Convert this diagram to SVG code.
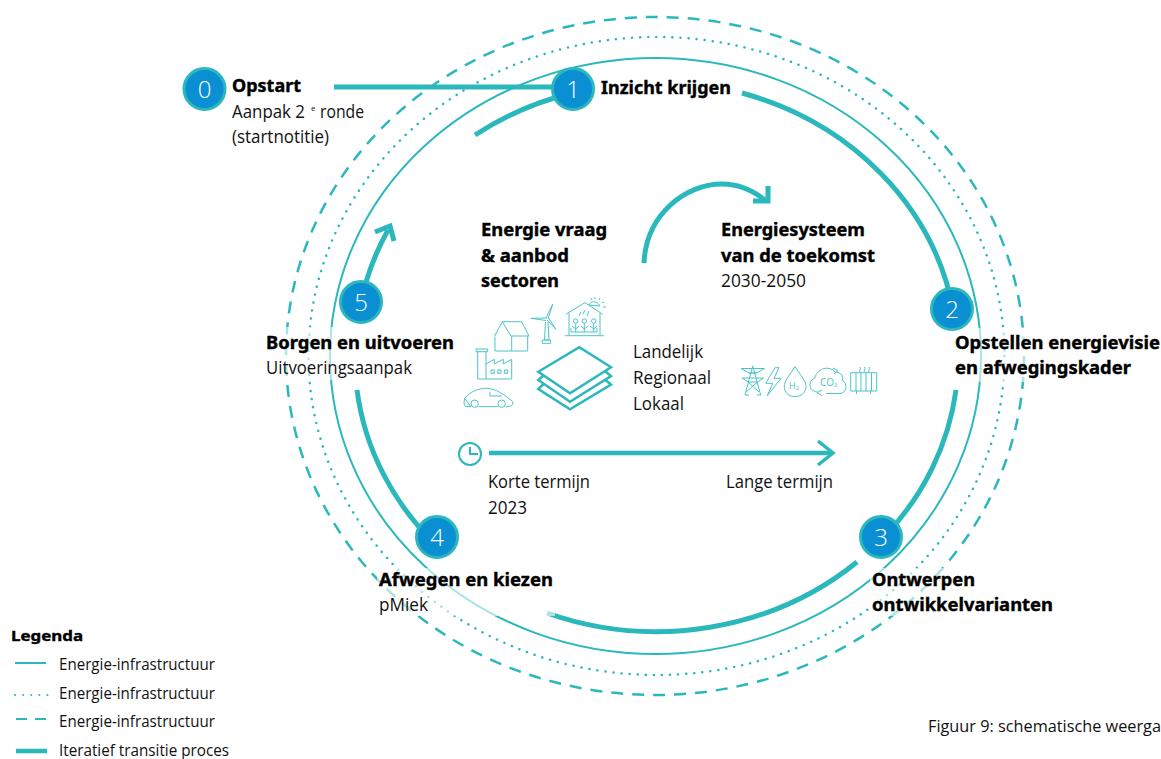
<svg xmlns="http://www.w3.org/2000/svg" width="1161" height="759" viewBox="0 0 1161 759">
<style>
text{font-family:"Open Sans","Liberation Sans",sans-serif;font-size:17.5px;fill:#111;}
.b{font-family:"Noto Sans","Open Sans",sans-serif;font-weight:700;font-size:18px;fill:#000;stroke:#000;stroke-width:.4px;}
.l{font-size:15.500px;}
.t{fill:none;stroke:#2bb8bd;}
.num{fill:#fff;font-size:24px;font-weight:300;text-anchor:middle;}
.nc{fill:#0a8fd3;stroke:#2bb8bd;stroke-width:3;}
.i{fill:none;stroke:#4cc4c8;stroke-width:1;}
.ht{fill:#4cc4c8;}
.halo{fill:#fff;fill-opacity:.6;}
</style>
<rect width="1161" height="759" fill="#fff"/>
<g id="connectors">
<ellipse class="t" cx="655.500" cy="356" rx="325.500" ry="298" stroke-width="2"/>
<ellipse class="t" cx="656.500" cy="356" rx="348" ry="319" stroke-width="2.500" stroke-dasharray="0.100 8" stroke-linecap="round"/>
<ellipse class="t" cx="655" cy="356" rx="369" ry="339" stroke-width="2.500" stroke-dasharray="12 9"/>
<path class="t" stroke-width="5" d="M334 87H572"/>
<path class="t" stroke-width="5" d="M475 135A302 275 0 0 1 572 93"/>
<path class="t" stroke-width="5" d="M742 93A302 275 0 0 1 953 309"/>
<path class="t" stroke-width="5" d="M956 390A302 275 0 0 1 885 536"/>
<path class="t" stroke-width="5" d="M857 562A302 275 0 0 1 547 613"/>
<path class="t" stroke-width="5" d="M437 546A302 275 0 0 1 357 390"/>
<path class="t" stroke-width="5" d="M361 302A302 275 0 0 1 388 230"/>
<path class="t" stroke-width="5" d="M375 232L390 226L394 241"/>
<path class="t" stroke-width="5" d="M644 263C646 215 685 184 722 184C738 184 754 191 766 201"/>
<path class="t" stroke-width="5" d="M768 186V201H753"/>
<path class="t" stroke-width="4.500" d="M489 453H832"/>
<path class="t" stroke-width="3.500" d="M818 441L833 453L818 465"/>
</g>
<g id="n0"><circle class="nc" cx="204.500" cy="89" r="20.500"/><text class="num" x="204.500" y="98">0</text>
<text class="b" x="232" y="92" textLength="69" lengthAdjust="spacingAndGlyphs">Opstart</text><text x="232" y="118" textLength="73" lengthAdjust="spacingAndGlyphs">Aanpak 2</text><text x="311" y="111" style="font-size:8px">e</text><text x="320" y="118" textLength="44" lengthAdjust="spacingAndGlyphs">ronde</text><text x="232" y="143" textLength="97" lengthAdjust="spacingAndGlyphs">(startnotitie)</text></g>
<g id="n1"><circle class="nc" cx="573" cy="89" r="20.500"/><text class="num" x="573" y="98">1</text>
<text class="b" x="601" y="94" textLength="130" lengthAdjust="spacingAndGlyphs">Inzicht krijgen</text></g>
<g id="n2"><rect class="halo" x="953" y="328" width="208" height="54"/><circle class="nc" cx="952" cy="309" r="20.500"/><text class="num" x="952" y="318">2</text>
<text class="b" x="955" y="349" textLength="205" lengthAdjust="spacingAndGlyphs">Opstellen energievisie</text><text class="b" x="955" y="374" textLength="176" lengthAdjust="spacingAndGlyphs">en afwegingskader</text></g>
<g id="n3"><rect class="halo" x="870" y="568" width="185" height="48"/><circle class="nc" cx="881" cy="537" r="20.500"/><text class="num" x="881" y="546">3</text>
<text class="b" x="872" y="586" textLength="103" lengthAdjust="spacingAndGlyphs">Ontwerpen</text><text class="b" x="872" y="611" textLength="181" lengthAdjust="spacingAndGlyphs">ontwikkelvarianten</text></g>
<g id="n4"><rect class="halo" x="377" y="568" width="178" height="48"/><circle class="nc" cx="437" cy="537" r="20.500"/><text class="num" x="437" y="546">4</text>
<text class="b" x="379" y="586" textLength="174" lengthAdjust="spacingAndGlyphs">Afwegen en kiezen</text><text x="379" y="611" textLength="49" lengthAdjust="spacingAndGlyphs">pMiek</text></g>
<g id="n5"><rect class="halo" x="264" y="327" width="192" height="53"/><circle class="nc" cx="361" cy="302" r="20.500"/><text class="num" x="361" y="311">5</text>
<text class="b" x="266" y="349" textLength="188" lengthAdjust="spacingAndGlyphs">Borgen en uitvoeren</text><text x="266" y="374" textLength="146" lengthAdjust="spacingAndGlyphs">Uitvoeringsaanpak</text></g>
<g id="center-text">
<text class="b" x="481" y="236" textLength="126" lengthAdjust="spacingAndGlyphs">Energie vraag</text><text class="b" x="481" y="262" textLength="88" lengthAdjust="spacingAndGlyphs">&amp; aanbod</text><text class="b" x="481" y="287" textLength="78" lengthAdjust="spacingAndGlyphs">sectoren</text>
<text class="b" x="721" y="236" textLength="144" lengthAdjust="spacingAndGlyphs">Energiesysteem</text><text class="b" x="721" y="262" textLength="154" lengthAdjust="spacingAndGlyphs">van de toekomst</text><text x="721" y="287" textLength="85" lengthAdjust="spacingAndGlyphs">2030-2050</text>
<text x="633" y="358" textLength="70" lengthAdjust="spacingAndGlyphs">Landelijk</text><text x="633" y="384" textLength="78" lengthAdjust="spacingAndGlyphs">Regionaal</text><text x="633" y="410" textLength="51" lengthAdjust="spacingAndGlyphs">Lokaal</text>
<text x="488" y="488" textLength="102" lengthAdjust="spacingAndGlyphs">Korte termijn</text><text x="488" y="514" textLength="39" lengthAdjust="spacingAndGlyphs">2023</text><text x="726" y="488" textLength="107" lengthAdjust="spacingAndGlyphs">Lange termijn</text>
</g>
<g id="icons">
<path class="i" d="M494.300 336.700L502.300 321.700H521.700L529 336H511L502.300 321.700M495 337V351H527.700V336M511.700 336V351"/>
<path class="i" d="M476 349h11.700v2.700H476ZM477.700 351.700V379H511.700V359.300L503.300 364V359.300L494.300 364V359.300L486 364M486 351.700V379"/>
<path class="i" d="M491 370h3.300v3.300H491ZM497.700 370h3.300v3.300h-3.300ZM504.300 370h3.300v3.300h-3.300Z"/>
<path class="i" d="M464.700 398.300C470 391.700 478.300 388.300 486.700 388.300C496.700 389 505 395 512.700 401.700C513.300 405 511.700 406.700 506.700 406.700H505.500M498 406.700H478.500M471 406.700H467C464 406.700 463.500 403 464.700 398.300ZM490 391.700V396H501.700"/>
<circle class="i" cx="474.700" cy="403.700" r="3.700"/><circle class="i" cx="501.700" cy="403.700" r="3.700"/>
<path class="i" d="M545.500 322L544.500 340H549L548 322M542.300 340h8.300v3.300h-8.300ZM546.700 318L531 318.300L546 320.500M546 318L552.700 304.300L548 319M547 320L556 329.300L548.500 318"/>
<path class="i" d="M565.700 314.300L585 302.700L602.700 314.300M569 313.300V335M600 313.300V335M565 335.700H604M571 328V332H597V328M575.700 323.500V332M584.300 323.500V332M593.700 323.500V332M572 326L575.700 329L579 326M581 326L584.300 329L588 326M590 326L593.700 329L597 326"/>
<circle class="i" cx="575.700" cy="321" r="2.200"/><circle class="i" cx="584.300" cy="321" r="2.200"/><circle class="i" cx="593.700" cy="321" r="2.200"/>
<path class="i" d="M579 316L581 312M583 314L585 310M587 316L589 311M589 305C590 301 597 300 600 306ZM591 298L592 300M595 297V299M600 298L599 300M604 302L602 303M606 307L603 307"/>
<path class="t" stroke-width="2.500" stroke-linejoin="miter" d="M538.300 371.700L579.300 347.300L611 367.300L570 393.300ZM543.500 375.500L538.300 380L570 401.700L611 376L605.500 371.500M543.500 384L538.300 389L570 409.300L611 384.500L605.500 380"/>
<circle class="t" cx="470" cy="454" r="11" stroke-width="2"/><path class="t" stroke-width="2" d="M470 447V454H478"/>
<path class="i" d="M752.700 366L745 395M752.700 366L760.700 395M741 368.500H764.500M742 378H763.500M741 368.500L749 373H756.500L764.500 368.500M742 378L748 382H757.500L763.500 378M748 382L759 392M757.500 382L746 392M749 373L756.500 373M745 395H749M757 395H761"/>
<path class="i" stroke-width="1.200" d="M775 367.700L765.700 383.300H772.700L767.300 395.700L781 378.300H774L779 367.700Z"/>
<path class="i" d="M795 366.700C789 376 784.300 381 784.300 386.500C784.300 392.500 789 396.700 795 396.700C801 396.700 806 392.500 806 386.500C806 381 801 376 795 366.700Z"/>
<path class="i" d="M817 392C808 391 808 380 815 378C816 370 828 364 835 372C841 372 844 377 842 380C848 383 847 393 840 393.500H826M822 390L817 392.500L822 395.500M833 368L838 370.500L834 374"/>
<path class="i" d="M850.700 372.700H876.700V391H850.700ZM856 372.700V391M861 372.700V391M866 372.700V391M871.500 372.700V391M856.500 391V394M870.500 391V394"/>
<path class="i" d="M860 367Q861 368.500 860 370Q859 371 860 372M864.500 367Q865.500 368.500 864.500 370Q863.500 371 864.500 372M869 367Q870 368.500 869 370Q868 371 869 372"/>
<text class="ht" x="789" y="389" style="font-size:9px">H₂</text>
<text class="ht" x="820" y="386" style="font-size:10px">CO₂</text>
</g>
<g id="legend">
<text class="b" x="11" y="641" style="font-size:15px" textLength="72" lengthAdjust="spacingAndGlyphs">Legenda</text>
<path class="t" stroke-width="2" d="M15 663H46"/>
<path class="t" stroke-width="2" stroke-dasharray="0.100 8" stroke-linecap="round" d="M15 695H48"/>
<path class="t" stroke-width="2" stroke-dasharray="11 8" d="M16 719H47"/>
<path class="t" stroke-width="4.500" d="M16 751H47"/>
<text class="l" x="59" y="670" textLength="156" lengthAdjust="spacingAndGlyphs">Energie-infrastructuur</text>
<text class="l" x="59" y="699" textLength="156" lengthAdjust="spacingAndGlyphs">Energie-infrastructuur</text>
<text class="l" x="59" y="727" textLength="156" lengthAdjust="spacingAndGlyphs">Energie-infrastructuur</text>
<text class="l" x="59" y="756" textLength="170" lengthAdjust="spacingAndGlyphs">Iteratief transitie proces</text>
</g>
<text class="l" x="928" y="732" textLength="233" lengthAdjust="spacingAndGlyphs">Figuur 9: schematische weerga</text>
</svg>
